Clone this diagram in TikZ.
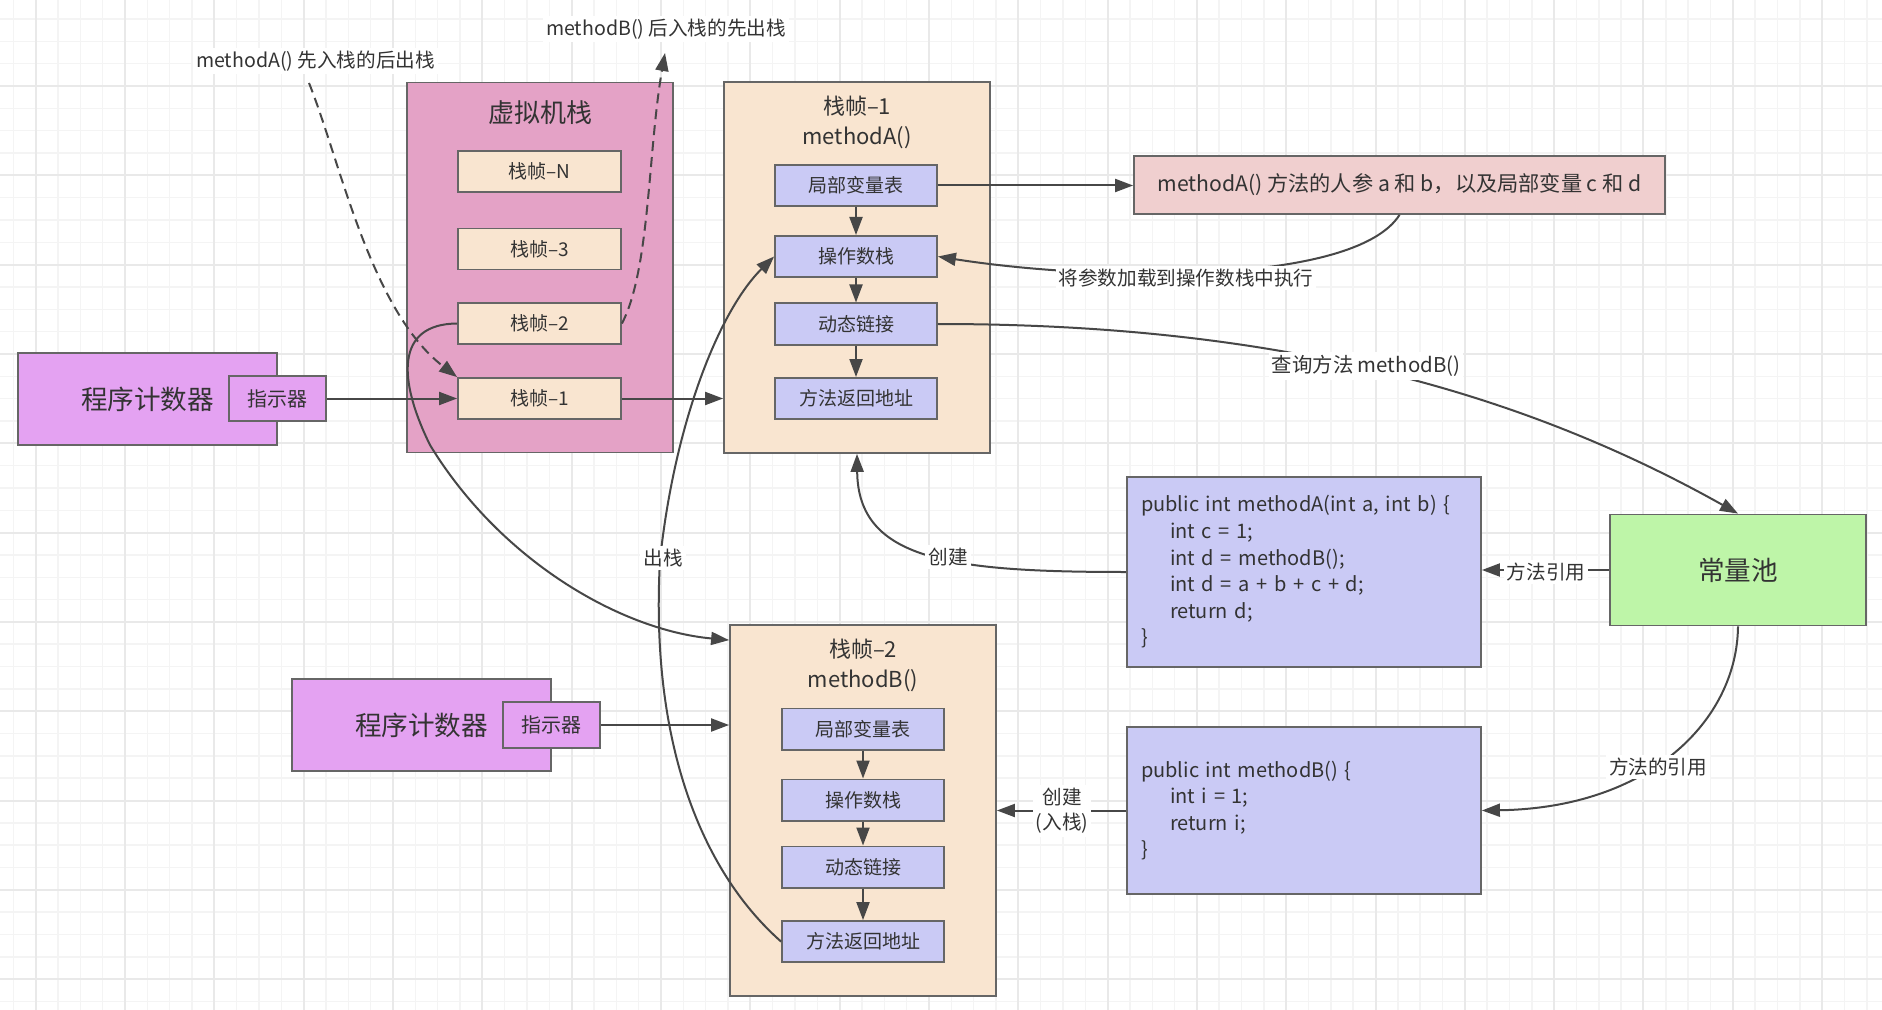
\documentclass[tikz,border=0pt]{standalone}
\usepackage{fontspec}
\setmainfont{Noto Sans CJK SC}
\usetikzlibrary{arrows.meta,calc}
\definecolor{pcfill}{HTML}{E4A2F2}
\definecolor{vmfill}{HTML}{E4A2C6}
\definecolor{framefill}{HTML}{F9E5D0}
\definecolor{bluefill}{HTML}{CACAF5}
\definecolor{notefill}{HTML}{F0CFCF}
\definecolor{greenfill}{HTML}{BEF5A8}
\definecolor{bordergray}{HTML}{666666}
\definecolor{linegray}{HTML}{474747}
\definecolor{txt}{HTML}{333333}
\definecolor{gminor}{HTML}{F4F4F4}
\definecolor{gmajor}{HTML}{E9E9E9}
\tikzset{
  basebox/.style={draw=bordergray, line width=0.9pt, inner sep=0pt, text=txt},
  pcbox/.style={basebox, fill=pcfill, minimum width=129.5pt, minimum height=46.3pt, font=\fontsize{13.3}{16}\selectfont},
  indbox/.style={basebox, fill=pcfill, minimum width=48.5pt, minimum height=22.75pt, font=\fontsize{10}{12}\selectfont},
  vmbox/.style={basebox, fill=vmfill, minimum width=133pt, minimum height=185pt},
  framebox/.style={basebox, fill=framefill, minimum width=133pt, minimum height=185.5pt},
  slotbox/.style={basebox, fill=framefill, minimum width=81.5pt, minimum height=20.5pt, font=\fontsize{9.5}{11}\selectfont},
  partbox/.style={basebox, fill=bluefill, minimum width=81pt, minimum height=20.6pt, font=\fontsize{9.5}{11}\selectfont},
  notebox/.style={basebox, fill=notefill, minimum width=265.5pt, minimum height=29pt, font=\fontsize{10.6}{12}\selectfont},
  cpbox/.style={basebox, fill=greenfill, minimum width=128pt, minimum height=55.5pt, font=\fontsize{13.3}{16}\selectfont},
  codebox/.style={basebox, fill=bluefill, minimum width=177pt, inner xsep=7pt, inner ysep=0pt, text width=163pt, align=left, font=\fontsize{10}{13.3}\selectfont},
  titletxt/.style={text=txt, align=center, inner sep=0pt},
  conn/.style={draw=linegray, line width=1pt, -{Triangle[length=9pt,width=6.5pt]}},
  dashconn/.style={conn, dash pattern=on 5pt off 3pt},
  lbl/.style={fill=white, text=txt, inner sep=1.5pt, align=center, font=\fontsize{9.8}{12.5}\selectfont},
  gridminor/.style={draw=gminor, line width=0.75pt},
  gridmajor/.style={draw=gmajor, line width=1pt}
}
\newcommand{\ind}{\hspace*{14.5pt}}
\begin{document}
\begin{tikzpicture}[x=0.5pt,y=-0.5pt]
\useasboundingbox (0,0) rectangle (1882,1010);
\fill[white] (0,0) rectangle (1882,1010);
% grid
\begin{scope}
\clip (0,0) rectangle (1882,1010);
\foreach \i in {0,...,84} {\pgfmathsetmacro\gx{13.4+22.33*\i}\draw[gridminor] (\gx,0) -- (\gx,1010);}
\foreach \i in {0,...,46} {\pgfmathsetmacro\gy{-3.33+22.33*\i}\draw[gridminor] (0,\gy) -- (1882,\gy);}
\foreach \i in {0,...,20} {\pgfmathsetmacro\gx{35.7+89.32*\i}\draw[gridmajor] (\gx,0) -- (\gx,1010);}
\foreach \i in {0,...,11} {\pgfmathsetmacro\gy{-3.3+89.32*\i}\draw[gridmajor] (0,\gy) -- (1882,\gy);}
\end{scope}

% program counters
\node[pcbox] (pc1) at (147.5,399) {程序计数器};
\node[indbox] (ind1) at (277.5,398.5) {指示器};
\node[pcbox] (pc2) at (421.5,725) {程序计数器};
\node[indbox] (ind2) at (551.5,725) {指示器};

% VM stack
\node[vmbox] (vms) at (540,267.5) {};
\node[titletxt, font=\fontsize{13}{15}\selectfont] (vmstitle) at (540,113) {虚拟机栈};
\node[slotbox] (fN) at (539.5,171.5) {栈帧–N};
\node[slotbox] (f3) at (539.5,249) {栈帧–3};
\node[slotbox] (f2) at (539.5,323.5) {栈帧–2};
\node[slotbox] (f1) at (539.5,398.5) {栈帧–1};

% frame A
\node[framebox] (fa) at (857,267.5) {};
\node[titletxt, font=\fontsize{11}{15}\selectfont] (fatitle) at (857,122) {栈帧–1\\methodA()};
\node[partbox] (la1) at (856,185.5) {局部变量表};
\node[partbox] (ob1) at (856,256.5) {操作数栈};
\node[partbox] (dl1) at (856,324) {动态链接};
\node[partbox] (ra1) at (856,398.5) {方法返回地址};

% frame B
\node[framebox] (fb) at (863,810.5) {};
\node[titletxt, font=\fontsize{11}{15}\selectfont] (fbtitle) at (863,665) {栈帧–2\\methodB()};
\node[partbox] (la2) at (863,729) {局部变量表};
\node[partbox] (ob2) at (863,800) {操作数栈};
\node[partbox] (dl2) at (863,867) {动态链接};
\node[partbox] (ra2) at (863,941.6) {方法返回地址};

% note, constant pool, code
\node[notebox] (note) at (1399.5,185) {methodA() 方法的人参 a 和 b，以及局部变量 c 和 d};
\node[cpbox] (cp) at (1738,570) {常量池};
\node[codebox, minimum height=95pt] (codeA) at (1304,572) {public int methodA(int a, int b) \{\\\ind int c = 1;\\\ind int d = methodB();\\\ind int d = a + b + c + d;\\\ind return d;\\\}};
\node[codebox, minimum height=83.5pt] (codeB) at (1304,810.5) {public int methodB() \{\\\ind int i = 1;\\\ind return i;\\\}};

\coordinate (aStart) at (309,83);
\coordinate (bEnd) at (665,53);

% connectors
\draw[conn] (ind1.east) -- (f1.west);
\draw[conn] (f1.east) -- (f1.east -| fa.west);
\draw[conn] (la1.east) -- (la1.east -| note.west);
\draw[conn] (la1.south) -- (ob1.north);
\draw[conn] (ob1.south) -- (dl1.north);
\draw[conn] (dl1.south) -- (ra1.north);
\draw[conn] (la2.south) -- (ob2.north);
\draw[conn] (ob2.south) -- (dl2.north);
\draw[conn] (dl2.south) -- (ra2.north);
\draw[conn] (ind2.east) -- (ind2.east -| fb.west);
\draw[conn] (cp.west) -- (cp.west -| codeA.east);
\draw[conn] (codeB.west) -- (codeB.west -| fb.east);
\draw[conn] (note.south) .. controls (1355,285) and (1100,282) .. (ob1.east);
\draw[conn] (dl1.east) .. controls (1250,324) and (1500,380) .. (cp.north);
\draw[conn] (cp.south) .. controls (1737,720) and (1650,808) .. (codeB.east);
\draw[conn] (codeA.west) .. controls (950,572) and (858,560) .. (fa.south);
\draw[conn] (ra2.west) .. controls (700,870) and (650,740) .. (660,560) .. controls (675,420) and (720,310) .. (ob1.west);
\draw[conn] (f2.west) .. controls (395,324) and (398,380) .. (430,445) .. controls (500,560) and (620,630) .. ($(fb.north west)+(0,16)$);
\draw[dashconn] (aStart) .. controls (340,160) and (370,310) .. (f1.north west);
\draw[dashconn] (f2.east) .. controls (650,270) and (648,150) .. (bEnd);

% labels
\node[lbl] (l1) at (315.5,61) {methodA() 先入栈的后出栈};
\node[lbl] (l2) at (666,29) {methodB() 后入栈的先出栈};
\node[lbl] (l3) at (1186,278) {将参数加载到操作数栈中执行};
\node[lbl, font=\fontsize{10.2}{12.5}\selectfont] (l4) at (1366,366) {查询方法 methodB()};
\node[lbl] (l5) at (1546,572) {方法引用};
\node[lbl] (l6) at (1658,767) {方法的引用};
\node[lbl] (l7) at (948,557) {创建};
\node[lbl] (l8) at (1062,811) {创建\\(入栈)};
\node[lbl] (l9) at (663,558) {出栈};
\end{tikzpicture}
\end{document}
